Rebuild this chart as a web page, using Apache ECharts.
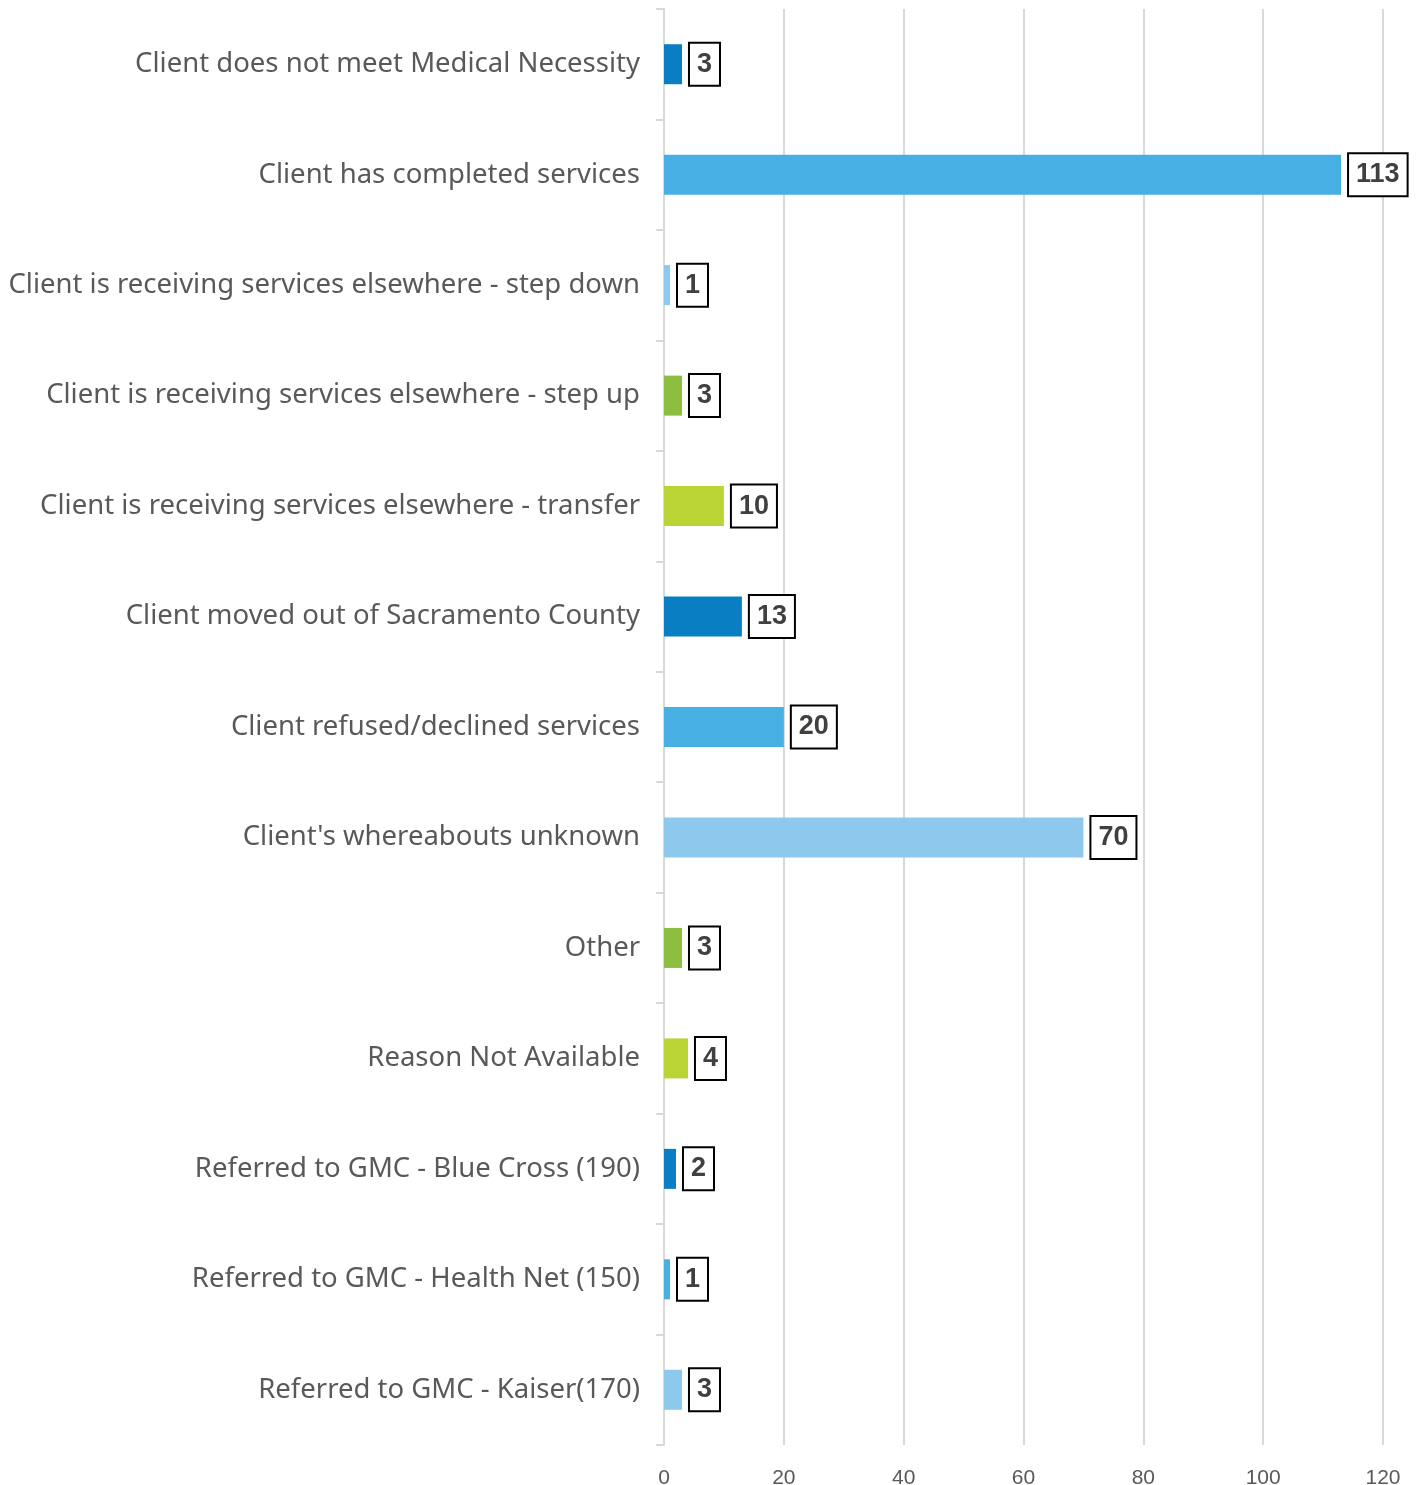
<!DOCTYPE html>
<html>
<head>
<meta charset="utf-8">
<script src="https://cdn.jsdelivr.net/npm/echarts@6/dist/echarts.min.js"></script>
<style>
  html, body { margin: 0; padding: 0; background: #fff; }
  #chart { width: 1423px; height: 1485px; }
</style>
</head>
<body>
<div id="chart"></div>
<script>
// Discharge reasons, listed top to bottom
const categories = [
  "Client does not meet Medical Necessity",
  "Client has completed services",
  "Client is receiving services elsewhere - step down",
  "Client is receiving services elsewhere - step up",
  "Client is receiving services elsewhere - transfer",
  "Client moved out of Sacramento County",
  "Client refused/declined services",
  "Client's whereabouts unknown",
  "Other",
  "Reason Not Available",
  "Referred to GMC - Blue Cross (190)",
  "Referred to GMC - Health Net (150)",
  "Referred to GMC - Kaiser(170)"
];
const counts = [3, 113, 1, 3, 10, 13, 20, 70, 3, 4, 2, 1, 3];
const xTicks = [0, 20, 40, 60, 80, 100, 120];

// Bar palette cycles through five colours
const palette = ["#0A7EC2", "#48AFE4", "#8DC9EC", "#8DBE3F", "#BBD435"];

const chart = echarts.init(document.getElementById("chart"));
chart.setOption({
  animation: false,
  grid: { left: 664, right: 40, top: 9, bottom: 40, containLabel: false, outerBoundsMode: "none" },
  xAxis: {
    type: "value",
    min: xTicks[0],
    max: xTicks[xTicks.length - 1],
    interval: 20,
    axisLine: { show: false },
    axisTick: { show: false },
    splitLine: { show: true, lineStyle: { color: "#D9D9D9", width: 2 } },
    axisLabel: {
      color: "#595959",
      fontSize: 21,
      fontFamily: "'Liberation Sans', sans-serif",
      margin: 23
    }
  },
  yAxis: {
    type: "category",
    inverse: true,
    data: categories,
    axisLine: { show: true, lineStyle: { color: "#D9D9D9", width: 2 } },
    axisTick: { show: true, length: 8, lineStyle: { color: "#D9D9D9", width: 2 } },
    axisLabel: {
      color: "#595959",
      fontSize: 27.5,
      fontFamily: "'Noto Sans', 'DejaVu Sans', sans-serif",
      margin: 24,
      padding: [4, 0, 0, 0]
    }
  },
  series: [{
    type: "bar",
    barWidth: 40,
    data: counts.map((v, i) => ({ value: v, itemStyle: { color: palette[i % palette.length] } })),
    label: {
      show: true,
      position: "right",
      distance: 8,
      color: "#404040",
      fontSize: 27,
      lineHeight: 28,
      fontWeight: "bold",
      fontFamily: "'Liberation Sans', sans-serif",
      borderColor: "#000",
      borderWidth: 2,
      padding: [8, 7, 5, 7],
      backgroundColor: "#fff"
    }
  }]
});
</script>
</body>
</html>
